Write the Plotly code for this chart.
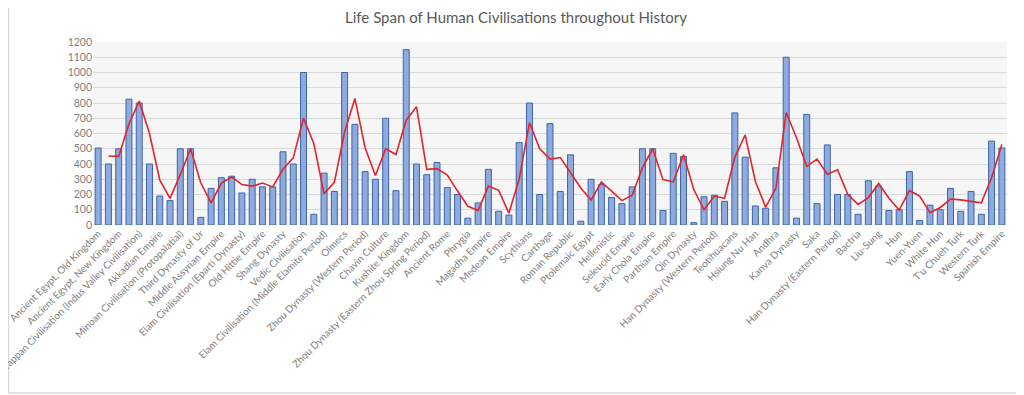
import plotly.graph_objects as go
import pandas as pd

# every other civilisation is labelled on the axis (as in the original chart)
tick_labels = [
    "Ancient Egypt, Old Kingdom", "Ancient Egypt, New Kingdom",
    "Harappan Civilisation (Indus Valley Civilisation)", "Akkadian Empire",
    "Minoan Civilisation (Protopalatial)", "Third Dynasty of Ur",
    "Middle Assyrian Empire", "Elam Civilisation (Eparti Dynasty)",
    "Old Hittie Empire", "Shang Dynasty", "Vedic Civilisation",
    "Elam Civilisation (Middle Elamite Period)", "Olmecs",
    "Zhou Dynasty (Western Period)", "Chavin Culture", "Kushite Kingdom",
    "Zhou Dynasty (Eastern Zhou Spring Period)", "Ancient Rome", "Phrygia",
    "Magadha Empire", "Medean Empire", "Scythians", "Carthage",
    "Roman Republic", "Ptolemaic Egypt", "Hellenistic", "Seleucid Empire",
    "Early Chola Empire", "Parthian Empire", "Qin Dynasty",
    "Han Dynasty (Western Period)", "Teotihuacans", "Hsiung Nu Han", "Andhra",
    "Kanva Dynasty", "Saka", "Han Dynasty (Eastern Period)", "Bactria",
    "Liu-Sung", "Hun", "Yuen-Yuen", "White Hun", "T'u Chueh Turk",
    "Western Turk", "Spanish Empire",
]

life_span = [
    505, 400, 500, 825, 800, 400, 190, 160, 500, 500,
    50, 240, 310, 320, 210, 300, 250, 250, 480, 400,
    1000, 70, 340, 220, 1000, 660, 350, 300, 700, 225,
    1150, 400, 330, 410, 245, 200, 45, 145, 365, 90,
    65, 540, 800, 200, 665, 220, 460, 25, 300, 265,
    180, 140, 250, 500, 500, 95, 470, 450, 15, 185,
    195, 155, 735, 445, 125, 110, 375, 1100, 45, 725,
    140, 525, 200, 200, 70, 290, 255, 95, 100, 350,
    30, 130, 100, 240, 90, 220, 70, 550, 505,
]

y_ticks = list(range(0, 1201, 100))

positions = list(range(len(life_span)))
tick_positions = positions[::2]
moving_avg = pd.Series(life_span).rolling(2).mean()  # 2-period moving average trendline

fig = go.Figure()
fig.add_trace(go.Bar(
    x=positions, y=life_span,
    marker=dict(color="#8FAADC", line=dict(color="#3B64AD", width=1)),
    name="Life Span",
))
fig.add_trace(go.Scatter(
    x=positions, y=moving_avg,
    mode="lines", line=dict(color="#E3242B", width=1.6),
    name="2 per. Mov. Avg.",
))

# the page body adds an 8px offset; compensate so the picture lands like the reference
OFF = 8
W, H = 1024 - OFF, 395 - OFF
L = 93 - OFF
T = 42 - OFF
plot_right = 1007 - OFF
plot_bottom = 225 - OFF
R = W - plot_right
B = H - plot_bottom
pw, ph = W - L - R, H - T - B

fig.update_layout(
    width=W, height=H,
    margin=dict(l=L, r=R, t=T, b=B, autoexpand=False),
    paper_bgcolor="white", plot_bgcolor="#F6F6F6",
    showlegend=False,
    bargap=0.42,
    font=dict(family="Lato, Open Sans, sans-serif", color="#7F7F7F", size=10),
    title=dict(
        text="Life Span of Human Civilisations throughout History",
        x=0.5, xanchor="center", y=1 - (18 - OFF) / H, yanchor="middle", yref="container",
        font=dict(size=15, color="#595959"),
    ),
    xaxis=dict(
        range=[-0.5, len(life_span) - 0.5],
        tickmode="array", tickvals=tick_positions, ticktext=tick_labels,
        tickangle=-45, tickfont=dict(size=10, color="#7F7F7F"),
        ticklabeloverflow="allow",
        showgrid=False, showline=False, zeroline=False, ticks="", automargin=False,
    ),
    yaxis=dict(
        range=[0, 1200], tickvals=y_ticks,
        gridcolor="#D9D9D9", gridwidth=1, zeroline=False,
        tickfont=dict(size=10.5, color="#7F7F7F"), ticks="", automargin=False,
    ),
    shapes=[dict(
        type="rect", xref="paper", yref="paper",
        x0=(0.5 - L) / pw, x1=(1019 - OFF - L) / pw,
        y0=(plot_bottom - (393 - OFF)) / ph, y1=(plot_bottom + 5) / ph,
        line=dict(color="#D9D9D9", width=1.5), fillcolor="rgba(0,0,0,0)", layer="below",
    )],
)

fig.write_html("out.html")
